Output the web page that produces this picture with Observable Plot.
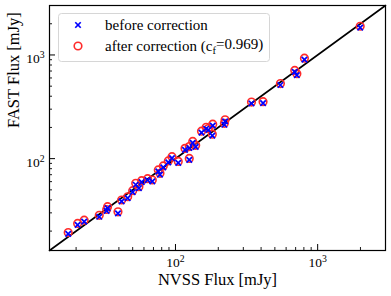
<!DOCTYPE html>
<html><head><meta charset="utf-8">
<script src="https://cdn.jsdelivr.net/npm/d3@7"></script>
<script src="https://cdn.jsdelivr.net/npm/@observablehq/plot@0.6"></script>
<style>
html,body{margin:0;padding:0;background:#fff;}
svg{font-family:"Liberation Serif","Times New Roman",serif;}
</style></head><body><div id="chart"></div>
<script>
// ---- data ----
const nvssFlux = [17.6, 20.5, 22.8, 29.1, 33.3, 32.8, 39.4, 41.8, 46.1, 50.0,
  52.5, 55.3, 57.8, 63.7, 68.7, 75.7, 77.8, 82.1, 89.0, 94.5,
  104.6, 125.0, 116.7, 125.0, 132.2, 138.7, 152.4, 164.4, 170.2, 182.8,
  181.6, 223.3, 220.8, 342.5, 413.0, 547.0, 690.0, 714.0, 807.0, 1991];
const fastBefore = [18.8, 23.0, 24.7, 27.5, 33.3, 31.3, 29.7, 38.7, 41.6, 47.6,
  56.0, 51.9, 59.4, 62.1, 60.3, 75.4, 70.0, 82.4, 92.1, 101.3,
  91.1, 97.3, 121.7, 126.6, 142.1, 130.1, 178.5, 194.3, 189.0, 208.5,
  166.9, 229.3, 212.1, 340.5, 343.6, 513.3, 687.6, 638.6, 902.1, 1833];
const fastAfter = [19.4, 23.7, 25.5, 28.4, 34.4, 32.3, 30.7, 39.9, 42.9, 49.1,
  57.8, 53.6, 61.3, 64.1, 62.2, 77.8, 72.2, 85.0, 95.0, 104.5,
  94.0, 100.4, 125.6, 130.6, 146.6, 134.3, 184.2, 200.5, 195.0, 215.2,
  172.2, 236.6, 218.9, 351.4, 354.6, 529.7, 709.6, 659.0, 931.0, 1892];
const axisDomain = [13, 3000];
const majorTicks = [100, 1000];
const minorTicks = [20, 30, 40, 50, 60, 70, 80, 90, 200, 300, 400, 500, 600, 700, 800, 900, 2000, 3000];
const xLabel = "NVSS Flux [mJy]";
const yLabel = "FAST Flux [mJy]";
const legendBefore = "before correction";
const legendAfter = ["after correction (c", "f", "=0.969)"];

const pts = nvssFlux.map((x, i) => ({x, before: fastBefore[i], after: fastAfter[i]}));
const diag = axisDomain.map(v => ({v}));

const svg = Plot.plot({
  width: 391, height: 296,
  marginLeft: 49, marginRight: 6, marginTop: 5, marginBottom: 46,
  style: {fontFamily: "'Liberation Serif','Times New Roman',serif", background: "white", color: "black", overflow: "visible"},
  x: {type: "log", domain: axisDomain},
  y: {type: "log", domain: axisDomain},
  marks: [
    Plot.axisX(minorTicks, {tickSize: -3, tickFormat: () => "", strokeWidth: 0.9}),
    Plot.axisX(majorTicks, {tickSize: -6, tickFormat: () => "", strokeWidth: 1}),
    Plot.axisX(majorTicks, {tickSize: 0, tickPadding: 7, fontSize: 13.5, tickFormat: d => `10^${Math.round(Math.log10(d))}`, label: null}),
    Plot.axisY(minorTicks, {tickSize: -3, tickFormat: () => "", strokeWidth: 0.9}),
    Plot.axisY(majorTicks, {tickSize: -6, tickFormat: () => "", strokeWidth: 1}),
    Plot.axisY(majorTicks, {tickSize: 0, tickPadding: 5, dy: 4, fontSize: 13.5, tickFormat: d => `10^${Math.round(Math.log10(d))}`, label: null}),
    Plot.line(diag, {x: "v", y: "v", stroke: "black", strokeWidth: 1.6}),
    Plot.dot(pts, {x: "x", y: "after", r: 3.8, stroke: "#ff2a2a", strokeWidth: 1.6, fill: "none"}),
    Plot.dot(pts, {x: "x", y: "before", symbol: "times", r: 2.6, stroke: "#0000ff", strokeWidth: 1.7}),
    Plot.frame({stroke: "black", strokeWidth: 1.2}),
    Plot.text([xLabel], {text: d => d, frameAnchor: "bottom", dy: 29, fontSize: 16.5, lineAnchor: "middle"}),
    Plot.text([yLabel], {text: d => d, frameAnchor: "left", dx: -36, rotate: -90, fontSize: 16.5, lineAnchor: "middle"})
  ]
});

// superscript tick labels
d3.select(svg).selectAll('g[aria-label$="tick label"] text').each(function () {
  const t = d3.select(this);
  const s = t.text();
  if (!s.includes("^")) return;
  const [base, exp] = s.split("^");
  t.text(null);
  t.append("tspan").text(base);
  t.append("tspan").attr("dy", "-0.55em").attr("font-size", "0.72em").text(exp);
});

// legend
const lg = d3.select(svg).append("g").attr("font-size", 15).attr("text-anchor", "start");
lg.append("rect").attr("x", 58.5).attr("y", 13.5).attr("width", 211).attr("height", 48).attr("rx", 3)
  .attr("fill", "white").attr("fill-opacity", 0.85).attr("stroke", "#d6d6d6").attr("stroke-width", 1);
lg.append("path").attr("d", d3.symbol(d3.symbolTimes, Math.PI * 2.6 * 2.6)())
  .attr("transform", "translate(78,25)").attr("stroke", "#0000ff").attr("stroke-width", 1.7).attr("fill", "none");
lg.append("circle").attr("cx", 78).attr("cy", 46).attr("r", 3.8).attr("stroke", "#ff2a2a").attr("stroke-width", 1.6).attr("fill", "none");
lg.append("text").attr("x", 105).attr("y", 25).attr("dy", "0.32em").attr("text-anchor", "start").text(legendBefore);
const t2 = lg.append("text").attr("x", 105).attr("y", 46).attr("dy", "0.32em").attr("text-anchor", "start");
t2.append("tspan").text(legendAfter[0]);
t2.append("tspan").attr("dy", "0.3em").attr("font-size", "0.7em").text(legendAfter[1]);
t2.append("tspan").attr("dy", "-0.3em").text(legendAfter[2]);

document.getElementById("chart").appendChild(svg);
</script></body></html>
